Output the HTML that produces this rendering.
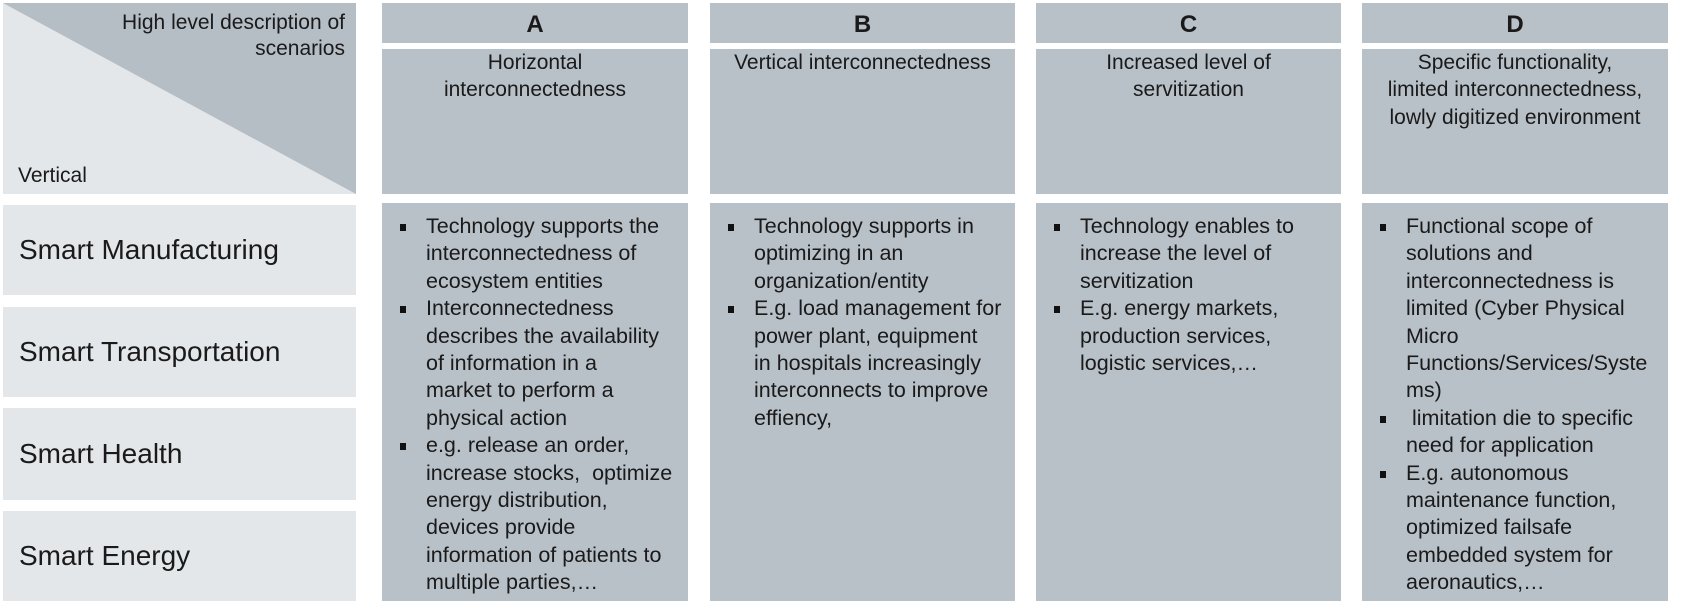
<!DOCTYPE html>
<html><head><meta charset="utf-8"><style>
body{margin:0;width:1693px;height:611px;background:#fff;position:relative;overflow:hidden;font-family:"Liberation Sans Narrow","Liberation Sans",sans-serif;color:#1a1a1a}
.c{position:absolute;background:#b8c0c8}
.l{position:absolute;background:#e4e7ea;left:3px;width:353px}
.l span{position:absolute;left:16px;top:50%;transform:translateY(-50%);font-size:28px;white-space:nowrap}
.h{top:3px;height:40px;text-align:center;font-weight:bold;font-size:24px;line-height:44px;font-family:"Liberation Sans",sans-serif}
.d{top:49px;height:145px;text-align:center;font-size:21px;line-height:27.4px;padding-top:0;white-space:nowrap}
.b{top:203px;height:398px;font-size:21.5px;line-height:27.4px;white-space:nowrap}
.b ul{margin:0;padding:10px 0 0 44px;list-style:none}
.b li{position:relative}
.b li:before{content:"";position:absolute;left:-26px;top:11px;width:6px;height:7px;background:#111}
</style></head><body>
<svg style="position:absolute;left:3px;top:3px" width="353" height="191">
<rect width="353" height="191" fill="#e4e7ea"/>
<polygon points="0,0 353,0 353,191" fill="#b5bdc5"/>
<text x="342" y="26" text-anchor="end" font-size="21" font-family="Liberation Sans Narrow,Liberation Sans,sans-serif" fill="#1a1a1a">High level description of</text>
<text x="342" y="52" text-anchor="end" font-size="21" font-family="Liberation Sans Narrow,Liberation Sans,sans-serif" fill="#1a1a1a">scenarios</text>
<text x="15" y="179" font-size="21" font-family="Liberation Sans Narrow,Liberation Sans,sans-serif" fill="#1a1a1a">Vertical</text>
</svg>
<div class="l" style="top:205px;height:90px"><span>Smart Manufacturing</span></div>
<div class="l" style="top:307px;height:90px"><span>Smart Transportation</span></div>
<div class="l" style="top:408px;height:92px"><span>Smart Health</span></div>
<div class="l" style="top:511px;height:90px"><span>Smart Energy</span></div>

<div class="c h" style="left:382px;width:306px">A</div>
<div class="c h" style="left:710px;width:305px">B</div>
<div class="c h" style="left:1036px;width:305px">C</div>
<div class="c h" style="left:1362px;width:306px">D</div>

<div class="c d" style="left:382px;width:306px">Horizontal<br>interconnectedness</div>
<div class="c d" style="left:710px;width:305px">Vertical interconnectedness</div>
<div class="c d" style="left:1036px;width:305px">Increased level of<br>servitization</div>
<div class="c d" style="left:1362px;width:306px">Specific functionality,<br>limited interconnectedness,<br>lowly digitized environment</div>

<div class="c b" style="left:382px;width:306px"><ul>
<li>Technology supports the<br>interconnectedness of<br>ecosystem entities</li>
<li>Interconnectedness<br>describes the availability<br>of information in a<br>market to perform a<br>physical action</li>
<li>e.g. release an order,<br>increase stocks,&nbsp; optimize<br>energy distribution,<br>devices provide<br>information of patients to<br>multiple parties,…</li>
</ul></div>
<div class="c b" style="left:710px;width:305px"><ul>
<li>Technology supports in<br>optimizing in an<br>organization/entity</li>
<li>E.g. load management for<br>power plant, equipment<br>in hospitals increasingly<br>interconnects to improve<br>effiency,</li>
</ul></div>
<div class="c b" style="left:1036px;width:305px"><ul>
<li>Technology enables to<br>increase the level of<br>servitization</li>
<li>E.g. energy markets,<br>production services,<br>logistic services,…</li>
</ul></div>
<div class="c b" style="left:1362px;width:306px"><ul>
<li>Functional scope of<br>solutions and<br>interconnectedness is<br>limited (Cyber Physical<br>Micro<br>Functions/Services/Syste<br>ms)</li>
<li>&nbsp;limitation die to specific<br>need for application</li>
<li>E.g. autonomous<br>maintenance function,<br>optimized failsafe<br>embedded system for<br>aeronautics,…</li>
</ul></div>
</body></html>
